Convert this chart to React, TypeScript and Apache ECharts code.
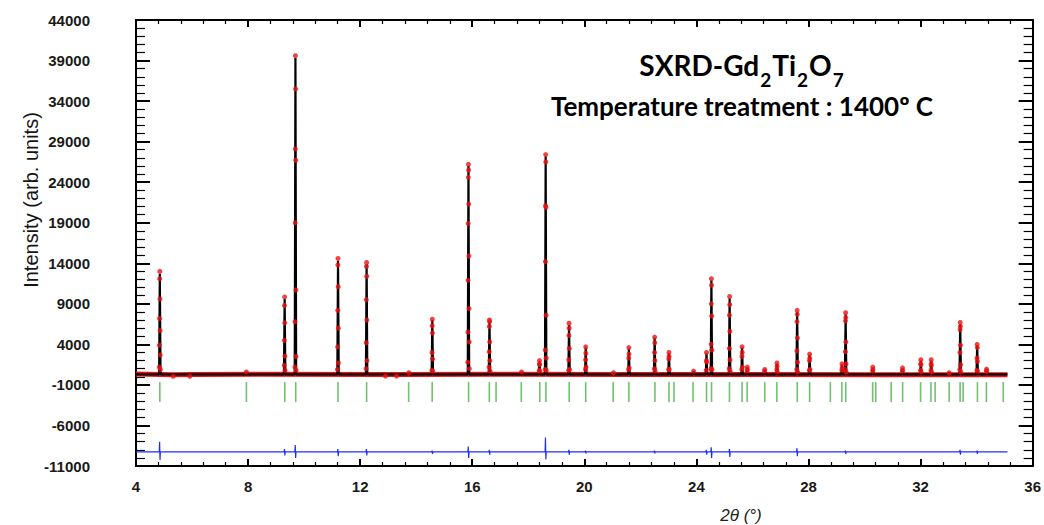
import React, { useEffect, useRef } from "react";
import * as echarts from "echarts";

// Bragg reflection positions (2θ, degrees)
const braggPositions = [
  4.85, 7.94, 9.31, 9.7, 11.21, 12.23, 13.73, 14.57, 15.87, 16.61, 16.85, 17.75,
  18.41, 18.63, 19.46, 20.05, 21.03, 21.59, 22.52, 23.02, 23.2, 23.88, 24.36,
  24.54, 25.18, 25.63, 25.81, 26.44, 26.87, 27.6, 28.04, 28.78, 29.19, 29.33,
  30.29, 30.4, 30.95, 31.36, 32.0, 32.37, 32.52, 33.02, 33.41, 33.52, 34.03,
  34.35, 34.95,
];

// Calculated profile: peak positions and peak intensities
const peakPositions = [
  4.85, 7.94, 9.305, 9.69, 11.21, 12.23, 13.74, 14.575, 15.865, 16.615, 17.76,
  18.4, 18.62, 19.455, 20.05, 21.04, 21.59, 22.51, 23.02, 23.9, 24.36, 24.535,
  25.185, 25.63, 25.815, 26.44, 26.875, 27.595, 28.04, 29.195, 29.325, 30.295,
  31.355, 32.01, 32.38, 33.02, 33.415, 34.02, 34.355,
];
const peakHeights = [
  12700, 600, 9600, 39300, 14300, 13900, 500, 7000, 26000, 6900, 600,
  1900, 27200, 6400, 3600, 500, 3500, 4800, 2900, 700, 2900, 11900,
  9700, 3600, 1100, 850, 1600, 8000, 2700, 1500, 7700, 1100,
  1000, 2000, 2000, 500, 6500, 3900, 900,
];
const backgroundLevel = 300;

// Observed profile: background band and the observed points on the peaks
const observedBackground: [number, number][] = [
  [4.0, 330], [5.3, 260], [6.0, 270], [8.5, 310], [12.8, 290], [13.4, 270],
  [17.0, 300], [21.5, 290], [26.0, 280], [30.6, 250], [35.1, 240],
];
const observedPoints: [number, number][] = [
  [4.83, 1200], [4.835, 3900], [4.84, 7200], [4.845, 12100], [4.85, 13000], [4.855, 9600], [4.86, 5700], [4.865, 2700], [4.87, 900],
  [5.33, 60], [5.92, 60],
  [7.94, 600],
  [9.29, 1400], [9.295, 4500], [9.3, 8800], [9.305, 9850], [9.31, 6650], [9.315, 2550], [9.32, 800],
  [9.67, 1200], [9.675, 6800], [9.68, 19000], [9.685, 28100], [9.69, 39600], [9.695, 35500], [9.7, 26700], [9.705, 10700], [9.71, 2500], [9.715, 800],
  [11.19, 900], [11.195, 3700], [11.2, 8200], [11.205, 13800], [11.21, 14600], [11.215, 11100], [11.22, 6000], [11.225, 1700],
  [12.21, 1000], [12.215, 4200], [12.22, 9500], [12.225, 13600], [12.23, 14100], [12.235, 12400], [12.24, 7000], [12.245, 2000],
  [12.9, 80], [13.3, 90], [13.74, 500],
  [14.56, 800], [14.565, 3000], [14.57, 6300], [14.575, 7100], [14.58, 5400], [14.585, 2200], [14.59, 700],
  [15.84, 1800], [15.845, 5500], [15.85, 11900], [15.855, 18900], [15.86, 24600], [15.865, 26200], [15.87, 25500], [15.875, 21300], [15.88, 14900], [15.885, 8400], [15.89, 4300], [15.895, 1000],
  [16.6, 1200], [16.605, 3100], [16.61, 6200], [16.615, 7000], [16.62, 6800], [16.625, 4300], [16.63, 2000], [16.635, 700],
  [17.76, 600],
  [18.39, 800], [18.395, 1600], [18.4, 2000], [18.405, 1500], [18.41, 700],
  [18.6, 900], [18.605, 3300], [18.61, 14200], [18.615, 21100], [18.62, 27400], [18.625, 26500], [18.63, 20900], [18.635, 7600], [18.64, 2300], [18.645, 800],
  [19.44, 800], [19.445, 2100], [19.45, 5100], [19.455, 6600], [19.46, 6000], [19.465, 3500], [19.47, 900],
  [20.04, 900], [20.045, 2100], [20.05, 3700], [20.055, 2900], [20.06, 1200],
  [21.04, 500],
  [21.58, 900], [21.585, 2300], [21.59, 3600], [21.595, 2800], [21.6, 1100],
  [22.5, 1000], [22.505, 3000], [22.51, 4900], [22.515, 4200], [22.52, 2000], [22.525, 700],
  [23.01, 900], [23.015, 2200], [23.02, 3000], [23.025, 2500], [23.03, 900],
  [23.9, 700],
  [24.35, 800], [24.355, 2000], [24.36, 3000], [24.365, 1800],
  [24.52, 1000], [24.525, 4000], [24.53, 9000], [24.535, 12100], [24.54, 11300], [24.545, 7500], [24.55, 3300], [24.555, 900],
  [25.17, 1000], [25.175, 3500], [25.18, 7600], [25.185, 9900], [25.19, 8900], [25.195, 5600], [25.2, 2100], [25.205, 700],
  [25.62, 900], [25.625, 2500], [25.63, 3700], [25.635, 3000], [25.64, 1200],
  [25.81, 700], [25.815, 1200], [25.82, 900],
  [26.43, 700], [26.44, 900],
  [26.87, 900], [26.875, 1700], [26.88, 1300], [26.885, 600],
  [27.58, 900], [27.585, 3200], [27.59, 6800], [27.595, 8200], [27.6, 7700], [27.605, 4800], [27.61, 1800], [27.615, 600],
  [28.03, 800], [28.035, 2000], [28.04, 2800], [28.045, 2300], [28.05, 900],
  [29.19, 800], [29.195, 1600], [29.2, 1100],
  [29.31, 900], [29.315, 3100], [29.32, 6900], [29.325, 7900], [29.33, 7300], [29.335, 4300], [29.34, 1600], [29.345, 600],
  [30.29, 700], [30.295, 1200], [30.3, 900],
  [31.35, 700], [31.355, 1100], [31.36, 800],
  [32.0, 800], [32.005, 1600], [32.01, 2100], [32.015, 1500], [32.02, 600],
  [32.37, 800], [32.375, 1600], [32.38, 2100], [32.385, 1400], [32.39, 600],
  [33.02, 500],
  [33.4, 900], [33.405, 3000], [33.41, 5800], [33.415, 6700], [33.42, 6200], [33.425, 3900], [33.43, 1500], [33.435, 600],
  [34.01, 800], [34.015, 2300], [34.02, 4000], [34.025, 3600], [34.03, 1900], [34.035, 700],
  [34.35, 700], [34.355, 950], [34.36, 700],
];

// Difference curve (obs - calc), shifted
const differenceLevel = -9250;
const diffSpikePositions = [4.85, 9.305, 9.69, 11.21, 12.23, 14.575, 15.865, 16.615, 18.62, 19.455, 20.05, 22.51, 24.36, 24.535, 25.185, 27.595, 29.325, 33.415, 34.02];
const diffSpikeUp = [-8000, -8900, -8400, -8900, -8900, -9100, -8600, -9000, -7500, -9000, -9100, -9100, -9000, -8700, -8900, -8800, -9100, -9000, -9100];
const diffSpikeDown = [-10300, -9700, -10000, -9800, -9700, -9500, -10000, -9600, -10200, -9600, -9450, -9450, -9600, -10000, -9900, -9800, -9500, -9600, -9500];
const xRange = [4.0, 35.1];

const braggLevel = -1885;

function buildCalc(): [number, number][] {
  const out: [number, number][] = [[xRange[0], backgroundLevel]];
  peakPositions.forEach((p, i) => {
    out.push([p - 0.025, backgroundLevel]);
    out.push([p, peakHeights[i]]);
    out.push([p + 0.025, backgroundLevel]);
  });
  out.push([xRange[1], backgroundLevel]);
  return out;
}

function buildDiff(): [number, number][] {
  const out: [number, number][] = [[xRange[0], differenceLevel]];
  diffSpikePositions.forEach((p, i) => {
    out.push([p - 0.02, differenceLevel]);
    out.push([p - 0.007, diffSpikeUp[i]]);
    out.push([p + 0.007, diffSpikeDown[i]]);
    out.push([p + 0.02, differenceLevel]);
  });
  out.push([xRange[1], differenceLevel]);
  return out;
}

const labelFont = "'Liberation Sans', Arial, sans-serif";

function xAxisDef(position: "top" | "bottom", showLabels: boolean) {
  return {
    type: "value",
    position,
    min: 4,
    max: 36,
    interval: 4,
    axisLine: { show: true, onZero: false, lineStyle: { color: "#000", width: 2 } },
    axisTick: { show: true, inside: true, length: 7, lineStyle: { color: "#000", width: 2 } },
    minorTick: { show: true, splitNumber: 5, length: 4, lineStyle: { color: "#000", width: 1.2 } },
    splitLine: { show: false },
    axisLabel: {
      show: showLabels,
      margin: 13,
      fontSize: 15,
      fontWeight: "bold",
      fontFamily: labelFont,
      color: "#1a1a1a",
      formatter: (v: number) => String(v),
    },
  };
}

function yAxisDef(position: "left" | "right", showLabels: boolean) {
  return {
    type: "value",
    position,
    min: -11000,
    max: 44000,
    interval: 5000,
    axisLine: { show: true, onZero: false, lineStyle: { color: "#000", width: 2 } },
    axisTick: { show: true, inside: true, length: 14, lineStyle: { color: "#000", width: 2 } },
    minorTick: { show: true, splitNumber: 5, length: 9, lineStyle: { color: "#000", width: 1.2 } },
    splitLine: { show: false },
    axisLabel: {
      show: showLabels,
      margin: 46,
      fontSize: 15,
      fontWeight: "bold",
      fontFamily: labelFont,
      color: "#1a1a1a",
      formatter: (v: number) => String(v),
    },
  };
}

export default function App() {
  const ref = useRef<HTMLDivElement>(null);
  useEffect(() => {
    if (!ref.current) return;
    const chart = echarts.init(ref.current, null, { renderer: "svg" });
    const option = {
      animation: false,
      backgroundColor: "#fff",
      grid: { left: 136, right: 9, top: 20, bottom: 59, containLabel: false },
      xAxis: [xAxisDef("bottom", true), xAxisDef("top", false)],
      yAxis: [yAxisDef("left", true), yAxisDef("right", false)],
      graphic: [
        {
          type: "text",
          x: 31,
          y: 200,
          rotation: Math.PI / 2,
          style: {
            text: "Intensity (arb. units)",
            font: "20px 'Liberation Sans', Arial, sans-serif",
            fill: "#151515",
            textAlign: "center",
            textVerticalAlign: "middle",
          },
        },
        {
          type: "text",
          x: 741,
          y: 515,
          style: {
            text: "2θ (°)",
            font: "italic 17px 'Liberation Sans', Arial, sans-serif",
            fill: "#222",
            textAlign: "center",
            textVerticalAlign: "middle",
          },
        },
        {
          type: "text",
          x: 742,
          y: 66,
          style: {
            text: "{m|SXRD-Gd}{s|2}{m|Ti}{s|2}{m|O}{s|7}",
            textAlign: "center",
            textVerticalAlign: "middle",
            rich: {
              m: { fontFamily: "Lato", fontWeight: "bold", fontSize: 28, lineHeight: 30, verticalAlign: "top", fill: "#000", color: "#000" },
              s: { fontFamily: "Lato", fontWeight: "bold", fontSize: 19, lineHeight: 14, verticalAlign: "top", padding: [19, 1, 0, 1], fill: "#000", color: "#000" },
            },
          },
        },
        {
          type: "text",
          x: 742,
          y: 106,
          style: {
            text: "Temperature treatment : 1400º C",
            font: "bold 26px Lato, sans-serif",
            fill: "#000",
            textAlign: "center",
            textVerticalAlign: "middle",
          },
        },
      ],
      series: [
        {
          name: "obs-band",
          type: "line",
          data: observedBackground,
          showSymbol: false,
          symbol: "none",
          lineStyle: { color: "#ee1111", width: 5 },
          z: 1,
        },
        {
          name: "bragg",
          type: "scatter",
          data: braggPositions.map((x) => [x, braggLevel]),
          symbol: "rect",
          symbolSize: [1.6, 20],
          itemStyle: { color: "#4fb04f" },
          z: 1,
        },
        {
          name: "calc",
          type: "line",
          data: buildCalc(),
          showSymbol: false,
          symbol: "none",
          lineStyle: { color: "#000", width: 2.2 },
          z: 2,
        },
        {
          name: "obs",
          type: "scatter",
          data: observedPoints,
          symbol: "circle",
          symbolSize: 5,
          itemStyle: { color: "#ee1111" },
          z: 3,
        },
        {
          name: "diff",
          type: "line",
          data: buildDiff(),
          showSymbol: false,
          symbol: "none",
          lineStyle: { color: "#1f2cff", width: 1.2 },
          z: 2,
        },
      ],
    };
    chart.setOption(option as any);
    return () => chart.dispose();
  }, []);
  return (
    <div
      ref={ref}
      style={{ position: "fixed", left: 0, top: 0, width: 1044, height: 525 }}
    />
  );
}
